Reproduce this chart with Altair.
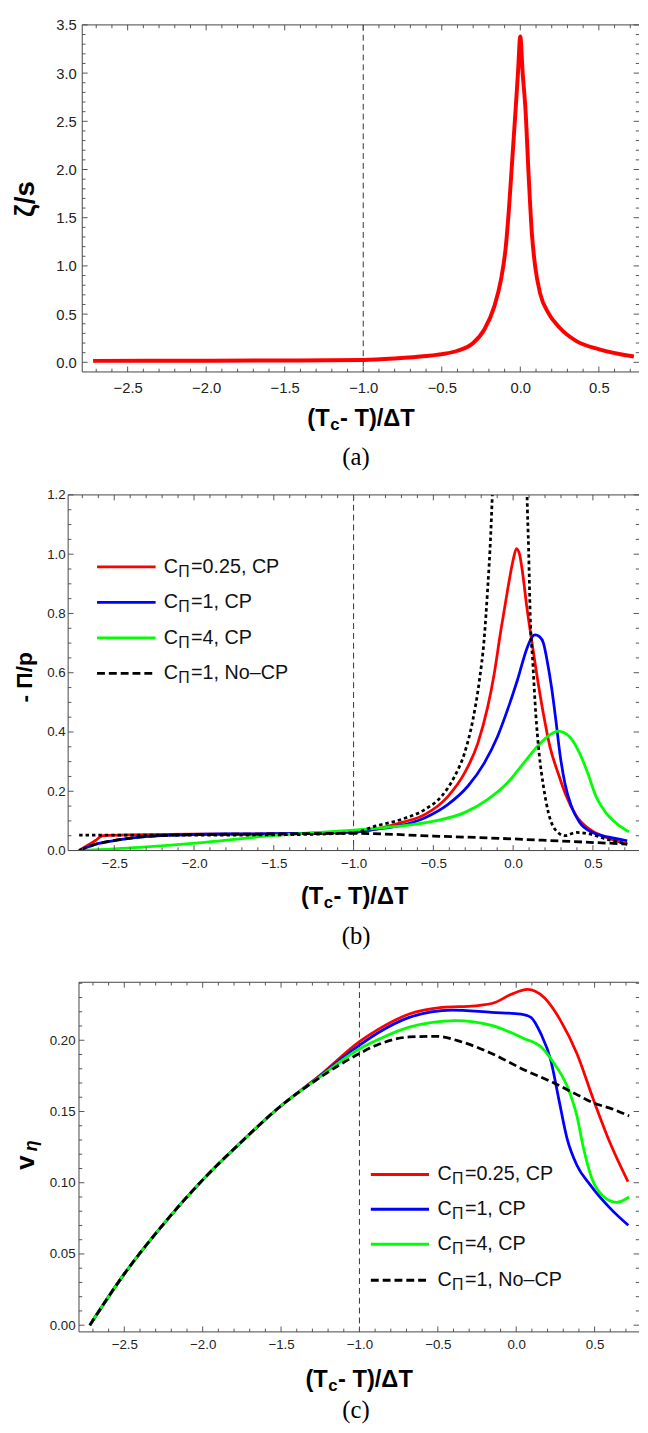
import altair as alt
import pandas as pd

# ---------------- styling ----------------
SANS = "Liberation Sans"
SERIF = "Liberation Serif"
FRAME_COLOR = "#444444"
TICK_COLOR = "#555555"
LABEL_COLOR = "#222222"
RED, BLUE, GREEN, BLACK = "#ff0000", "#0000ff", "#00ff00", "#000000"

# ---------------- data ----------------
# (a) zeta/s
A_X = [-2.72, -2.0, -1.5, -1.0, -0.8, -0.6, -0.5, -0.4, -0.3, -0.229, -0.166, -0.124, -0.093, -0.072,
       -0.051, -0.03, -0.015, 0.0, 0.015, 0.033, 0.053, 0.074, 0.095, 0.127, 0.179, 0.252, 0.357, 0.503, 0.723]
A_Y = [0.015, 0.017, 0.019, 0.025, 0.04, 0.065, 0.085, 0.12, 0.2, 0.34, 0.578, 0.85, 1.19, 1.6,
       2.11, 2.62, 3.0, 3.38, 3.0, 2.62, 1.94, 1.33, 0.99, 0.71, 0.51, 0.356, 0.22, 0.135, 0.06]

# (b) -Pi/p
B_RED_X = [-2.72, -2.62, -2.571, -2.4, -2.0, -1.5, -1.0, -0.861, -0.696, -0.552, -0.408, -0.305, -0.222,
           -0.16, -0.119, -0.078, -0.037, 0.0, 0.021, 0.04, 0.056, 0.087, 0.117, 0.148, 0.19, 0.231,
           0.282, 0.334, 0.396, 0.478, 0.581, 0.715]
B_RED_Y = [0.0, 0.033, 0.05, 0.053, 0.055, 0.056, 0.062, 0.072, 0.095, 0.122, 0.183, 0.261, 0.361,
           0.483, 0.595, 0.739, 0.872, 0.98, 1.019, 1.0, 0.95, 0.817, 0.706, 0.595, 0.461, 0.35,
           0.261, 0.183, 0.117, 0.072, 0.045, 0.022]
B_BLUE_X = [-2.72, -2.612, -2.509, -2.344, -2.138, -1.8, -1.5, -1.0, -0.861, -0.717, -0.552, -0.408,
            -0.284, -0.181, -0.099, -0.037, 0.025, 0.087, 0.12, 0.138, 0.165, 0.19, 0.21, 0.241, 0.268,
            0.293, 0.324, 0.365, 0.417, 0.499, 0.602, 0.715]
B_BLUE_Y = [0.0, 0.022, 0.033, 0.045, 0.052, 0.056, 0.057, 0.063, 0.072, 0.083, 0.111, 0.156,
            0.217, 0.295, 0.383, 0.472, 0.572, 0.683, 0.722, 0.728, 0.722, 0.7, 0.65, 0.55, 0.439,
            0.328, 0.228, 0.15, 0.095, 0.061, 0.045, 0.033]
B_GREEN_X = [-2.72, -2.344, -1.932, -1.52, -1.0, -0.861, -0.696, -0.49, -0.305, -0.161, -0.037, 0.066,
             0.169, 0.23, 0.282, 0.355, 0.417, 0.468, 0.519, 0.581, 0.653, 0.726]
B_GREEN_Y = [0.0, 0.011, 0.028, 0.05, 0.069, 0.075, 0.083, 0.1, 0.128, 0.172, 0.228, 0.295,
             0.361, 0.39, 0.403, 0.383, 0.328, 0.261, 0.183, 0.128, 0.089, 0.063]
B_NOCP_X = [-2.72, -2.612, -2.509, -2.344, -2.138, -1.8, -1.5, -1.0, -0.5, -0.078, 0.3, 0.715]
B_NOCP_Y = [0.0, 0.022, 0.033, 0.045, 0.052, 0.055, 0.056, 0.058, 0.049, 0.041, 0.032, 0.022]
B_DOT_X = [-2.72, -2.0, -1.5, -1.0, -0.861, -0.696, -0.552, -0.449, -0.367, -0.305, -0.253, -0.212,
           -0.181, -0.161, -0.14, -0.13, -0.1, -0.05, 0.0, 0.05, 0.087, 0.097, 0.107, 0.124, 0.142,
           0.163, 0.19, 0.221, 0.262, 0.324, 0.396, 0.478, 0.581, 0.715]
B_DOT_Y = [0.052, 0.052, 0.053, 0.06, 0.083, 0.106, 0.139, 0.183, 0.25, 0.328, 0.439, 0.572,
           0.717, 0.872, 1.072, 1.206, 1.7, 3.0, 5.0, 3.0, 1.206, 1.017, 0.795, 0.628, 0.461,
           0.328, 0.217, 0.128, 0.072, 0.05, 0.061, 0.056, 0.039, 0.022]

# (c) v_eta
C_RED_X = [-2.72, -2.5, -2.25, -2.0, -1.75, -1.5, -1.25, -1.0, -0.891, -0.682, -0.472, -0.262,
           -0.136, -0.031, 0.073, 0.178, 0.283, 0.387, 0.492, 0.597, 0.713]
C_RED_Y = [0.0, 0.036, 0.071, 0.102, 0.129, 0.154, 0.1755, 0.199, 0.2069, 0.2184, 0.223, 0.2242,
           0.2265, 0.2323, 0.2357, 0.23, 0.2138, 0.1907, 0.1585, 0.1284, 0.1008]
C_BLUE_X = [-2.72, -2.5, -2.25, -2.0, -1.75, -1.5, -1.25, -1.0, -0.891, -0.682, -0.409, -0.157,
            0.031, 0.094, 0.157, 0.22, 0.272, 0.325, 0.387, 0.472, 0.6, 0.715]
C_BLUE_Y = [0.0, 0.036, 0.071, 0.102, 0.129, 0.154, 0.175, 0.1965, 0.2046, 0.2161, 0.2212, 0.2196,
            0.2184, 0.2161, 0.2046, 0.1862, 0.1585, 0.1308, 0.1123, 0.0985, 0.082, 0.0701]
C_GREEN_X = [-2.72, -2.5, -2.25, -2.0, -1.75, -1.5, -1.25, -1.0, -0.891, -0.682, -0.388, -0.157,
             0.052, 0.157, 0.241, 0.325, 0.387, 0.43, 0.482, 0.55, 0.64, 0.72]
C_GREEN_Y = [0.0, 0.036, 0.071, 0.102, 0.129, 0.154, 0.1745, 0.194, 0.2, 0.2092, 0.2138, 0.2104,
             0.2011, 0.1954, 0.1838, 0.1677, 0.1469, 0.1239, 0.1031, 0.091, 0.0862, 0.09]
C_NOCP_X = [-2.72, -2.5, -2.25, -2.0, -1.75, -1.5, -1.25, -1.0, -0.891, -0.682, -0.514, -0.346,
            -0.157, 0.052, 0.241, 0.367, 0.492, 0.618, 0.72]
C_NOCP_Y = [0.0, 0.036, 0.071, 0.102, 0.129, 0.154, 0.174, 0.1907, 0.1965, 0.2023, 0.2028, 0.1988,
            0.1907, 0.1792, 0.17, 0.163, 0.1561, 0.1516, 0.1469]

LEGEND_SUFFIX = ["=0.25, CP", "=1, CP", "=4, CP", "=1, No\u2013CP"]
LEGEND_COLORS = [RED, BLUE, GREEN, BLACK]
LEGEND_DASH = [None, None, None, [8, 4]]

X_MAJOR = [-2.5, -2.0, -1.5, -1.0, -0.5, 0.0, 0.5]
A_Y_MAJOR = [0.0, 0.5, 1.0, 1.5, 2.0, 2.5, 3.0, 3.5]
B_Y_MAJOR = [0.0, 0.2, 0.4, 0.6, 0.8, 1.0, 1.2]
C_Y_MAJOR = [0.0, 0.05, 0.10, 0.15, 0.20]
X_DOMAIN = [-2.789, 0.789]
CRIT_X = [-1.0]


def minors(lo, hi, step, majors):
    out = []
    k = int(round(lo / step))
    while k * step <= hi + 1e-9:
        v = round(k * step, 4)
        if lo - 1e-9 <= v <= hi + 1e-9 and all(abs(v - m) > 1e-6 for m in majors):
            out.append(v)
        k += 1
    return out


# ---------------- layout (px) ----------------
VIEW_W = 579
GAP = 124.7
ONE = pd.DataFrame({"k": [0]})


def text(t, x, y, size, weight="normal", font=SANS, angle=0, align="center",
         baseline="middle", style="normal", color="#000000"):
    return alt.Chart(ONE).mark_text(
        text=t, font=font, fontSize=size, fontWeight=weight, fontStyle=style,
        angle=angle, align=align, baseline=baseline, color=color
    ).encode(x=alt.value(x), y=alt.value(y))


def rule_px(x, y, x2=None, y2=None, color=FRAME_COLOR, width=1.0, dash=None):
    enc = dict(x=alt.value(x), y=alt.value(y))
    if x2 is not None:
        enc["x2"] = alt.value(x2)
    if y2 is not None:
        enc["y2"] = alt.value(y2)
    kw = dict(color=color, strokeWidth=width)
    if dash:
        kw["strokeDash"] = dash
    return alt.Chart(ONE).mark_rule(**kw).encode(**enc)


def xtitle(cx, cy, fs=24, sub=17):
    # "(T" + subscript c + "- T)/ΔT"
    w_open = 0.944 * fs
    w_c = 0.556 * sub
    w_rest = 3.111 * fs
    total = w_open + w_c + w_rest
    xa = cx - total / 2 + w_open
    return [
        text("(T", xa, cy, fs, weight="bold", align="right"),
        text("c", xa + 0.5, cy + 6, sub, weight="bold", align="left"),
        text("- T)/\u0394T", xa + w_c + 1, cy, fs, weight="bold", align="left"),
    ]


def legend(x1, x2, tx, rows):
    out = []
    for i, yy in enumerate(rows):
        out.append(rule_px(x1, yy, x2=x2, color=LEGEND_COLORS[i], width=3, dash=LEGEND_DASH[i]))
        out.append(text("C", tx, yy, 20, align="left", color="#111111"))
        out.append(text("\u03a0", tx + 14.6, yy + 5, 16, align="left", color="#111111"))
        out.append(text(LEGEND_SUFFIX[i], tx + 27.7, yy, 20, align="left", color="#111111"))
    return out


def panel(fl, fr, ft, H, ydom, ymaj, yfmt, ystep, lfs, xlp, ylp, series, extra):
    xs = alt.Scale(domain=X_DOMAIN, range=[fl, fr], nice=False, zero=False)
    ys = alt.Scale(domain=ydom, range=[H, ft], nice=False, zero=False)
    xaxis = alt.Axis(values=X_MAJOR, format=".1f", title=None, ticks=False, tickSize=0, domain=False,
                     grid=False, labelFont=SANS, labelFontSize=lfs, labelColor=LABEL_COLOR,
                     labelPadding=xlp, labelFlush=False, labelOverlap=False)
    yaxis = alt.Axis(values=ymaj, format=yfmt, title=None, ticks=False, tickSize=0, domain=False,
                     grid=False, labelFont=SANS, labelFontSize=lfs, labelColor=LABEL_COLOR,
                     labelPadding=ylp, labelFlush=False, labelOverlap=False, offset=-fl)
    X = lambda f: alt.X(f, scale=xs, axis=xaxis)
    Y = lambda f: alt.Y(f, scale=ys, axis=yaxis)

    layers = []
    for (xv, yv, color, width, dash) in series:
        kw = dict(color=color, strokeWidth=width, interpolate="monotone", clip=True)
        if dash:
            kw["strokeDash"] = dash
        layers.append(alt.Chart(pd.DataFrame({"x": xv, "y": yv})).mark_line(**kw)
                      .encode(x=X("x:Q"), y=Y("y:Q")))
    # vertical dashed marker
    layers.insert(0,
        alt.Chart(pd.DataFrame({"v": CRIT_X})).mark_rule(color="#333333", strokeWidth=1, strokeDash=[6, 4])
        .encode(x=X("v:Q"), y=alt.value(ft), y2=alt.value(H))
    )

    def tk(vals, side, length):
        base = alt.Chart(pd.DataFrame({"v": vals})).mark_rule(color=TICK_COLOR, strokeWidth=1)
        if side == "bottom":
            return base.encode(x=X("v:Q"), y=alt.value(H), y2=alt.value(H - length))
        if side == "top":
            return base.encode(x=X("v:Q"), y=alt.value(ft), y2=alt.value(ft + length))
        if side == "left":
            return base.encode(y=Y("v:Q"), x=alt.value(fl), x2=alt.value(fl + length))
        return base.encode(y=Y("v:Q"), x=alt.value(VIEW_W), x2=alt.value(VIEW_W - length))

    x_min = minors(-2.75, 0.75, 0.1, X_MAJOR)
    y_min = minors(ydom[0] + 1e-6, ydom[1], ystep, ymaj)
    y_maj_in = [v for v in ymaj if ydom[0] < v < ydom[1] + 1e-9]
    for side in ("bottom", "top"):
        layers.append(tk(X_MAJOR, side, 5.5))
        layers.append(tk(x_min, side, 3.3))
    for side in ("left", "right"):
        layers.append(tk(y_maj_in, side, 5.5))
        layers.append(tk(y_min, side, 3.3))
    # frame (right edge is cut off in the original)
    layers.append(rule_px(fl, ft, y2=H))
    layers.append(rule_px(fl, ft, x2=VIEW_W))
    layers.append(rule_px(fl, H, x2=VIEW_W))
    layers += extra
    return alt.layer(*layers).properties(width=VIEW_W, height=H)


# ---------------- panel (a) ----------------
A_TOP = 14.3
A_H = 352
pa = panel(
    fl=14.3, fr=584.3, ft=0, H=A_H, ydom=[-0.1, 3.5], ymaj=A_Y_MAJOR, yfmt=".1f", ystep=0.1,
    lfs=15, xlp=9, ylp=6,
    series=[(A_X, A_Y, RED, 4, None)],
    extra=[
        rule_px(0, -6.3, x2=1, color="#ffffff"),
        text("\u03b6/s", 25 - 68, 191 - A_TOP, 28, weight="bold", angle=270),
        *xtitle(364 - 68, 414.5 - A_TOP),
        text("(a)", 360 - 68, 452.5 - A_TOP, 25, font=SERIF),
    ],
)

# ---------------- panel (b) ----------------
B_TOP = A_TOP + A_H + GAP
B_H = 360.7
pb = panel(
    fl=0, fr=579, ft=0, H=B_H, ydom=[0.0, 1.2], ymaj=B_Y_MAJOR, yfmt=".1f", ystep=0.05,
    lfs=13.5, xlp=6, ylp=3,
    series=[
        (B_RED_X, B_RED_Y, RED, 2.8, None),
        (B_BLUE_X, B_BLUE_Y, BLUE, 2.8, None),
        (B_GREEN_X, B_GREEN_Y, GREEN, 2.8, None),
        (B_NOCP_X, B_NOCP_Y, BLACK, 2.8, [8, 4]),
        (B_DOT_X, B_DOT_Y, BLACK, 2.8, [3.5, 3]),
    ],
    extra=[
        rule_px(-60, 100, y2=101, color="#ffffff"),
        text("- \u03a0/p", 24 - 68, 676 - B_TOP, 23, weight="bold", angle=270),
        *xtitle(357.5 - 68, 899 - B_TOP),
        text("(b)", 360 - 68, 938 - B_TOP, 25, font=SERIF),
        *legend(29.3, 88.7, 97, [73, 109, 145, 181]),
    ],
)

# ---------------- panel (c) ----------------
C_TOP = B_TOP + B_H + GAP
C_FT = 8.6
C_H = 363.2
pc = panel(
    fl=11, fr=579.9, ft=C_FT, H=C_H, ydom=[-0.0047, 0.2407], ymaj=C_Y_MAJOR, yfmt=".2f", ystep=0.01,
    lfs=13.5, xlp=6, ylp=4,
    series=[
        (C_RED_X, C_RED_Y, RED, 2.8, None),
        (C_BLUE_X, C_BLUE_Y, BLUE, 2.8, None),
        (C_GREEN_X, C_GREEN_Y, GREEN, 2.8, None),
        (C_NOCP_X, C_NOCP_Y, BLACK, 2.8, [8, 4]),
    ],
    extra=[
        text("v", 25 - 68, 1168 - C_TOP, 26, weight="bold", angle=270),
        text("\u03b7", 31 - 68, 1151 - C_TOP, 18, weight="bold", style="italic", angle=270),
        *xtitle(362 - 68, 1388.5 - C_TOP),
        text("(c)", 360 - 68, 1419 - C_TOP, 25, font=SERIF),
        *legend(307, 366, 374.7, [203.6, 238.9, 274.3, 310.9]),
    ],
)

chart = alt.vconcat(pa, pb, pc, spacing=GAP, bounds="flush").properties(
    padding=0, background="white"
).configure_view(stroke=None)

chart.save("out.html", embed_options={"renderer": "svg", "actions": False})
